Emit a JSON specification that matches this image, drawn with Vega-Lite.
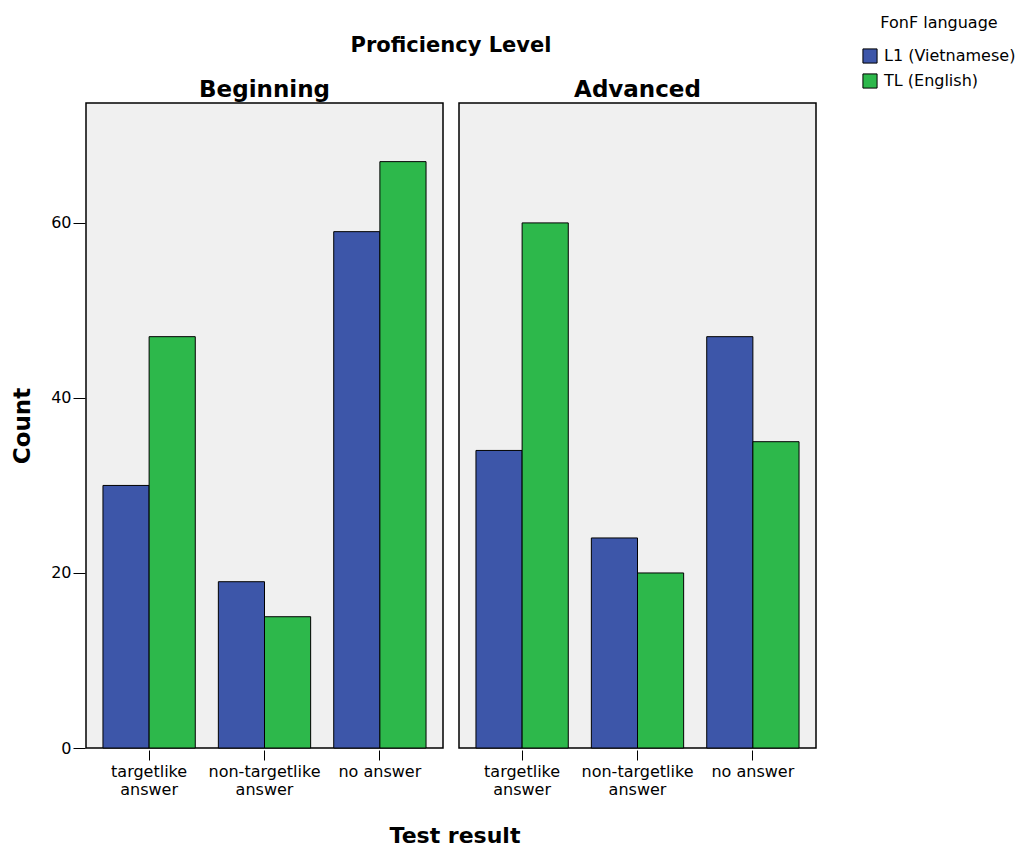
{
  "$schema": "https://vega.github.io/schema/vega-lite/v6.json",
  "padding": {"left": 11, "top": 15, "right": 5, "bottom": 5},
  "title": {"text": "Test result", "orient": "bottom", "anchor": "middle", "frame": "group", "dx": 369, "fontSize": 22, "fontWeight": "bold", "color": "black", "offset": 29},
  "config": {
    "font": "DejaVu Sans",
    "background": "white",
    "view": {"fill": "#F0F0F0", "stroke": "black", "strokeWidth": 1.5},
    "axis": {"grid": false, "domain": false, "tickColor": "black", "labelColor": "black", "labelFontSize": 16, "titleFontSize": 22, "titleFontWeight": "bold", "titleColor": "black"}
  },
  "data": {
    "values": [
      {"level": "Beginning", "result": "targetlike answer", "language": "L1 (Vietnamese)", "count": 30},
      {"level": "Beginning", "result": "targetlike answer", "language": "TL (English)", "count": 47},
      {"level": "Beginning", "result": "non-targetlike answer", "language": "L1 (Vietnamese)", "count": 19},
      {"level": "Beginning", "result": "non-targetlike answer", "language": "TL (English)", "count": 15},
      {"level": "Beginning", "result": "no answer", "language": "L1 (Vietnamese)", "count": 59},
      {"level": "Beginning", "result": "no answer", "language": "TL (English)", "count": 67},
      {"level": "Advanced", "result": "targetlike answer", "language": "L1 (Vietnamese)", "count": 34},
      {"level": "Advanced", "result": "targetlike answer", "language": "TL (English)", "count": 60},
      {"level": "Advanced", "result": "non-targetlike answer", "language": "L1 (Vietnamese)", "count": 24},
      {"level": "Advanced", "result": "non-targetlike answer", "language": "TL (English)", "count": 20},
      {"level": "Advanced", "result": "no answer", "language": "L1 (Vietnamese)", "count": 47},
      {"level": "Advanced", "result": "no answer", "language": "TL (English)", "count": 35}
    ]
  },
  "spacing": 14,
  "facet": {
    "column": {
      "field": "level", "type": "nominal", "sort": ["Beginning", "Advanced"],
      "title": "Proficiency Level",
      "header": {"titleFontSize": 21, "titleFontWeight": "bold", "titleColor": "black", "titlePadding": 13,
                 "labelFontSize": 23, "labelFontWeight": "bold", "labelColor": "black", "labelPadding": 0}
    }
  },
  "spec": {
    "width": 357,
    "height": 645,
    "mark": {"type": "bar", "stroke": "black", "strokeWidth": 1},
    "encoding": {
      "x": {
        "field": "result", "type": "nominal",
        "sort": ["targetlike answer", "non-targetlike answer", "no answer"],
        "scale": {"paddingInner": 0.2, "paddingOuter": 0.147},
        "title": null,
        "axis": {"labelAngle": 0, "tickSize": 10, "labelPadding": 3,
                 "labelExpr": "datum.value == 'no answer' ? 'no answer' : split(datum.value, ' ')", "labelLineHeight": 18}
      },
      "xOffset": {
        "field": "language", "type": "nominal", "sort": ["L1 (Vietnamese)", "TL (English)"],
        "scale": {"paddingInner": 0, "paddingOuter": 0}
      },
      "y": {
        "field": "count", "type": "quantitative",
        "scale": {"domain": [0, 73.7], "nice": false},
        "title": "Count",
        "axis": {"values": [0, 20, 40, 60], "tickSize": 12, "labelPadding": 2, "titlePadding": 16, "titleFontSize": 23}
      },
      "color": {
        "field": "language", "type": "nominal", "sort": ["L1 (Vietnamese)", "TL (English)"],
        "scale": {"range": ["#3D56A9", "#2DB84B"]},
        "title": "FonF language",
        "legend": {"orient": "none", "legendX": 776, "legendY": -88, "titleAnchor": "middle", "titleFontSize": 16,
                   "titleFontWeight": "normal", "titleColor": "black", "labelFontSize": 16, "labelColor": "black",
                   "symbolType": "square", "symbolSize": 200, "symbolStrokeColor": "black", "symbolStrokeWidth": 1,
                   "symbolOpacity": 1, "rowPadding": 5, "titlePadding": 17, "labelOffset": 6}
      }
    }
  }
}
